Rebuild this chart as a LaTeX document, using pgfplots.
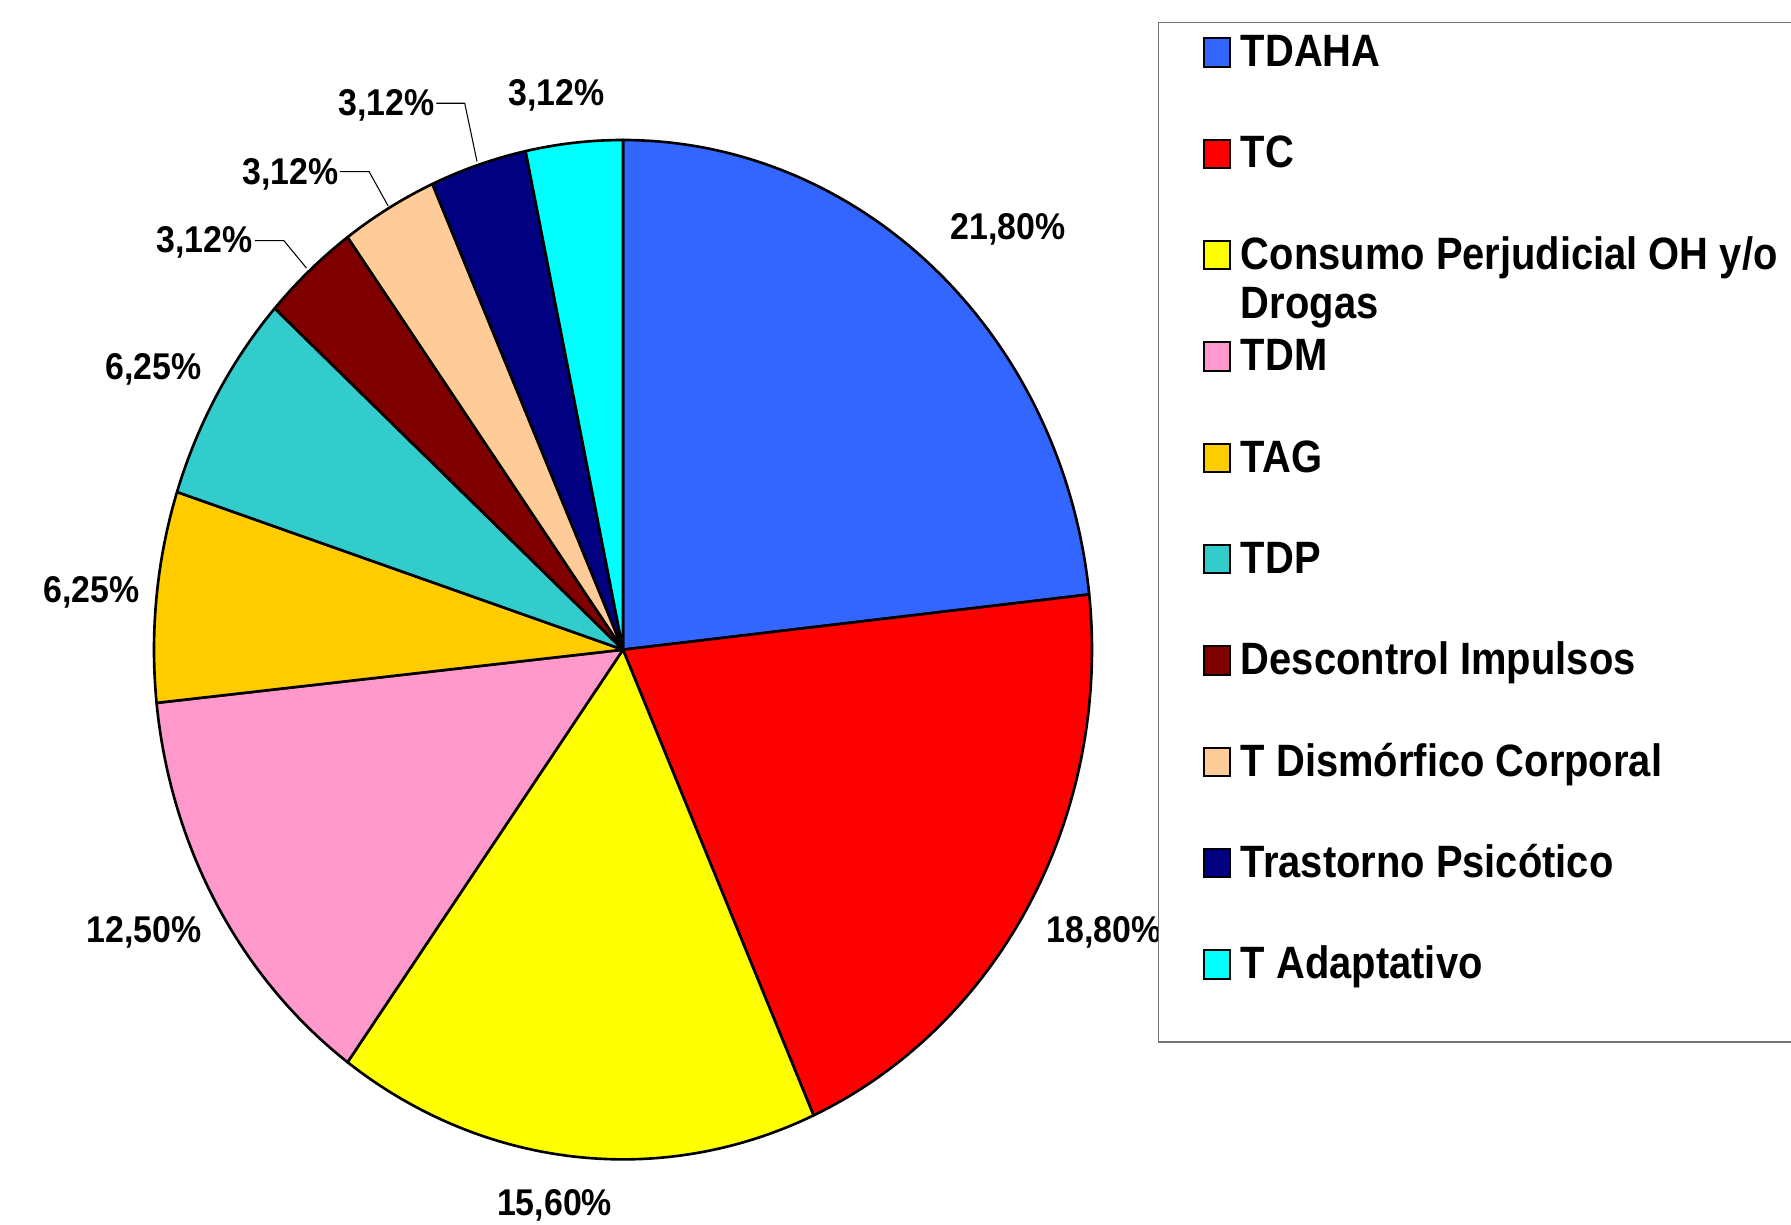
\documentclass[border=0pt]{standalone}
\usepackage{pgfplots}
\pgfplotsset{compat=1.18}
\usepackage{fontspec}
\setmainfont{Liberation Sans}
\newfontfamily\legfont[FakeStretch=0.88]{Liberation Sans}
\newfontfamily\labfont[FakeStretch=0.91]{Liberation Sans}

\definecolor{cTDAHA}{HTML}{3366FF}
\definecolor{cTC}{HTML}{FF0000}
\definecolor{cOH}{HTML}{FFFF00}
\definecolor{cTDM}{HTML}{FF99CC}
\definecolor{cTAG}{HTML}{FFCC00}
\definecolor{cTDP}{HTML}{33CCCC}
\definecolor{cDI}{HTML}{800000}
\definecolor{cTDC}{HTML}{FFCC99}
\definecolor{cTP}{HTML}{000080}
\definecolor{cTA}{HTML}{00FFFF}

% data (percent shares as printed)
\def\vA{21.80}\def\vB{18.80}\def\vC{15.60}\def\vD{12.50}\def\vE{6.25}
\def\vF{6.25}\def\vG{3.12}\def\vH{3.12}\def\vI{3.12}\def\vJ{3.12}
\pgfmathsetmacro\tot{\vA+\vB+\vC+\vD+\vE+\vF+\vG+\vH+\vI+\vJ}
\pgfmathsetmacro\aA{90}
\pgfmathsetmacro\aB{\aA-360*\vA/\tot}
\pgfmathsetmacro\aC{\aB-360*\vB/\tot}
\pgfmathsetmacro\aD{\aC-360*\vC/\tot}
\pgfmathsetmacro\aE{\aD-360*\vD/\tot}
\pgfmathsetmacro\aF{\aE-360*\vE/\tot}
\pgfmathsetmacro\aG{\aF-360*\vF/\tot}
\pgfmathsetmacro\aH{\aG-360*\vG/\tot}
\pgfmathsetmacro\aI{\aH-360*\vH/\tot}
\pgfmathsetmacro\aJ{\aI-360*\vI/\tot}
\pgfmathsetmacro\aK{\aJ-360*\vJ/\tot}

\begin{document}
\begin{tikzpicture}
\useasboundingbox (0,0) rectangle (17.91cm,-12.25cm);
\begin{axis}[
  at={(6.23cm,-6.497cm)}, anchor=origin,
  scale only axis, width=9.38cm, height=10.194cm,
  xmin=-1, xmax=1, ymin=-1, ymax=1,
  hide axis, clip=false,
  wedge/.style={draw=black, line width=0.75pt, line join=round, samples=100, variable=\t},
]
\addplot[wedge, fill=cTDAHA, domain=\aB:\aA] ({cos(\t)},{sin(\t)}) -- (axis cs:0,0) -- cycle;
\addplot[wedge, fill=cTC, domain=\aC:\aB] ({cos(\t)},{sin(\t)}) -- (axis cs:0,0) -- cycle;
\addplot[wedge, fill=cOH, domain=\aD:\aC] ({cos(\t)},{sin(\t)}) -- (axis cs:0,0) -- cycle;
\addplot[wedge, fill=cTDM, domain=\aE:\aD] ({cos(\t)},{sin(\t)}) -- (axis cs:0,0) -- cycle;
\addplot[wedge, fill=cTAG, domain=\aF:\aE] ({cos(\t)},{sin(\t)}) -- (axis cs:0,0) -- cycle;
\addplot[wedge, fill=cTDP, domain=\aG:\aF] ({cos(\t)},{sin(\t)}) -- (axis cs:0,0) -- cycle;
\addplot[wedge, fill=cDI, domain=\aH:\aG] ({cos(\t)},{sin(\t)}) -- (axis cs:0,0) -- cycle;
\addplot[wedge, fill=cTDC, domain=\aI:\aH] ({cos(\t)},{sin(\t)}) -- (axis cs:0,0) -- cycle;
\addplot[wedge, fill=cTP, domain=\aJ:\aI] ({cos(\t)},{sin(\t)}) -- (axis cs:0,0) -- cycle;
\addplot[wedge, fill=cTA, domain=\aK:\aJ] ({cos(\t)},{sin(\t)}) -- (axis cs:0,0) -- cycle;
\end{axis}

\begin{scope}[x=0.01cm, y=-0.01cm]
  % data labels
  \tikzset{lab/.style={anchor=base west, inner sep=0pt, font=\labfont\bfseries\fontsize{10.6pt}{12pt}\selectfont}}
  \node[lab] at (950.7,239.3) {21,80\%};
  \node[lab] at (1046.7,943.3) {18,80\%};
  \node[lab] at (496.7,1216.7) {15,60\%};
  \node[lab] at (86,943.3) {12,50\%};
  \node[lab] at (42.7,603.3) {6,25\%};
  \node[lab] at (105,380) {6,25\%};
  \node[lab] at (156,252.7) {3,12\%};
  \node[lab] at (241.7,185) {3,12\%};
  \node[lab] at (337.7,115.7) {3,12\%};
  \node[lab] at (508.3,106) {3,12\%};
  % leader lines
  \draw[line width=0.3pt] (436.7,103.3) -- (465,103.3) -- (477.3,161.7);
  \draw[line width=0.3pt] (340,171.7) -- (369.3,171.7) -- (388.3,206);
  \draw[line width=0.3pt] (255,240.7) -- (284,240.7) -- (306.7,268.3);

  % legend
  \draw[fill=white, draw=black!55, line width=0.4pt] (1159,22.7) rectangle (1850,1042.7);
  \tikzset{leg/.style={anchor=base west, inner sep=0pt, font=\legfont\bfseries\fontsize{12.9pt}{14pt}\selectfont},
           sw/.style={draw=black, line width=0.55pt}}
  \foreach \i/\c/\txt in {0/cTDAHA/{TDAHA}, 1/cTC/{TC}, 2/cOH/{Consumo Perjudicial OH y/o}, 3/cTDM/{TDM}, 4/cTAG/{TAG}, 5/cTDP/{TDP}, 6/cDI/{Descontrol Impulsos}, 7/cTDC/{T Dismórfico Corporal}, 8/cTP/{Trastorno Psicótico}, 9/cTA/{T Adaptativo}}{
    \pgfmathsetmacro\yb{66.7+101.4*\i}
    \draw[sw, fill=\c] (1204.4,\yb-28.3) rectangle (1230.5,\yb);
    \node[leg] at (1241,\yb) {\txt};
  }
  \node[leg] at (1241,318.3) {Drogas};
\end{scope}
\end{tikzpicture}
\end{document}
